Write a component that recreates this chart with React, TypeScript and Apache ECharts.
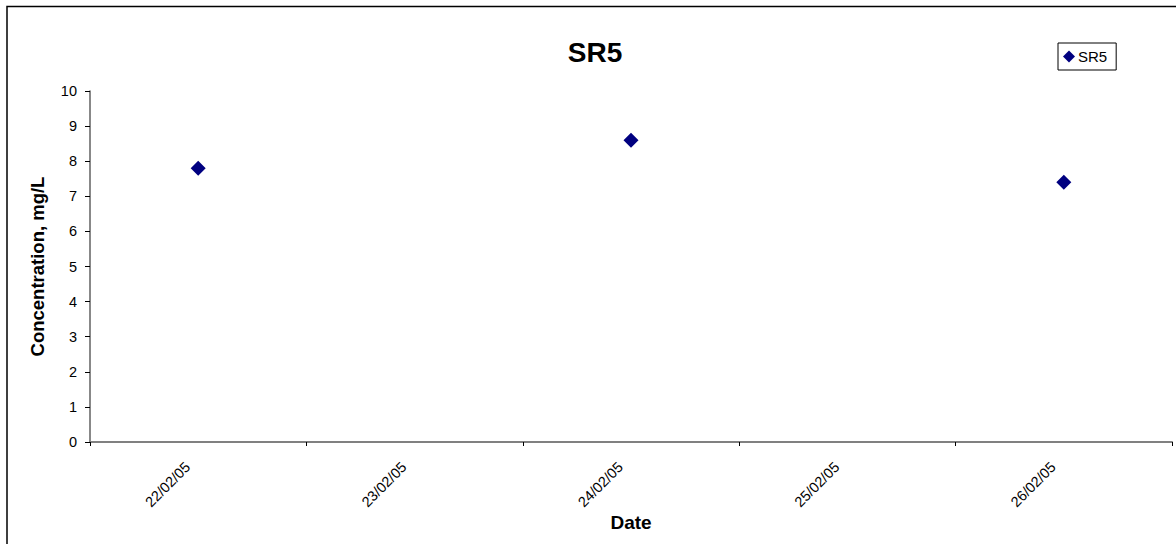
import React, { useEffect, useRef } from "react";
import * as echarts from "echarts";

const categories = ["22/02/05", "23/02/05", "24/02/05", "25/02/05", "26/02/05"];
const seriesName = "SR5";
const values: (number | null)[] = [7.8, null, 8.6, null, 7.4];
const yTicks = { min: 0, max: 10, interval: 1 };

export default function App() {
  const ref = useRef<HTMLDivElement>(null);
  useEffect(() => {
    if (!ref.current) return;
    const chart = echarts.init(ref.current, null, { renderer: "svg" });
    const font = "Liberation Sans, Arial, sans-serif";
    chart.setOption({
      animation: false,
      backgroundColor: "#fff",
      textStyle: { fontFamily: font },
      title: {
        text: "SR5",
        left: 595,
        top: 38,
        textAlign: "center",
        padding: 0,
        textStyle: { fontSize: 28, fontWeight: "bold", color: "#000", fontFamily: font },
      },
      legend: {
        left: 1058,
        top: 43,
        data: [seriesName],
        icon: "diamond",
        itemWidth: 12,
        itemHeight: 12,
        padding: [6, 9, 6, 5],
        borderColor: "#000",
        borderWidth: 1,
        borderRadius: 0,
        textStyle: { fontSize: 15, color: "#000", fontFamily: font, padding: [0, 0, 0, -2] },
      },
      graphic: [
        {
          type: "rect",
          shape: { x: 7, y: 6.5, width: 1300, height: 700 },
          style: { fill: "none", stroke: "#000", lineWidth: 1.5 },
          silent: true,
        },
      ],
      grid: { left: 90, right: 4, top: 91, bottom: 102 },
      xAxis: {
        type: "category",
        data: categories,
        boundaryGap: true,
        name: "Date",
        nameLocation: "middle",
        nameGap: 71,
        nameMoveOverlap: false,
        nameTextStyle: { fontSize: 19, fontWeight: "bold", color: "#000", fontFamily: font },
        axisLine: { lineStyle: { color: "#808080", width: 2 } },
        axisTick: { show: true, length: 4, alignWithLabel: false, lineStyle: { color: "#000" } },
        axisLabel: {
          rotate: 45,
          fontSize: 14.5,
          color: "#000",
          margin: 12,
          fontFamily: font,
          padding: [0, 15, 0, 0],
        },
        splitLine: { show: false },
      },
      yAxis: {
        type: "value",
        min: yTicks.min,
        max: yTicks.max,
        interval: yTicks.interval,
        name: "Concentration, mg/L",
        nameLocation: "middle",
        nameGap: 43,
        nameMoveOverlap: false,
        nameTextStyle: { fontSize: 18.5, fontWeight: "bold", color: "#000", fontFamily: font },
        axisLine: { show: true, lineStyle: { color: "#606060", width: 1.5 } },
        axisTick: { show: true, length: 5, lineStyle: { color: "#000" } },
        axisLabel: { fontSize: 14.5, color: "#000", margin: 13, fontFamily: font },
        splitLine: { show: false },
      },
      series: [
        {
          name: seriesName,
          type: "line",
          data: values,
          symbol: "diamond",
          symbolSize: 15,
          showAllSymbol: true,
          lineStyle: { width: 0, opacity: 0 },
          itemStyle: { color: "#000080" },
          connectNulls: false,
        },
      ],
    });
    return () => chart.dispose();
  }, []);
  return (
    <div
      ref={ref}
      style={{ position: "absolute", left: 0, top: 0, width: 1176, height: 544 }}
    />
  );
}
